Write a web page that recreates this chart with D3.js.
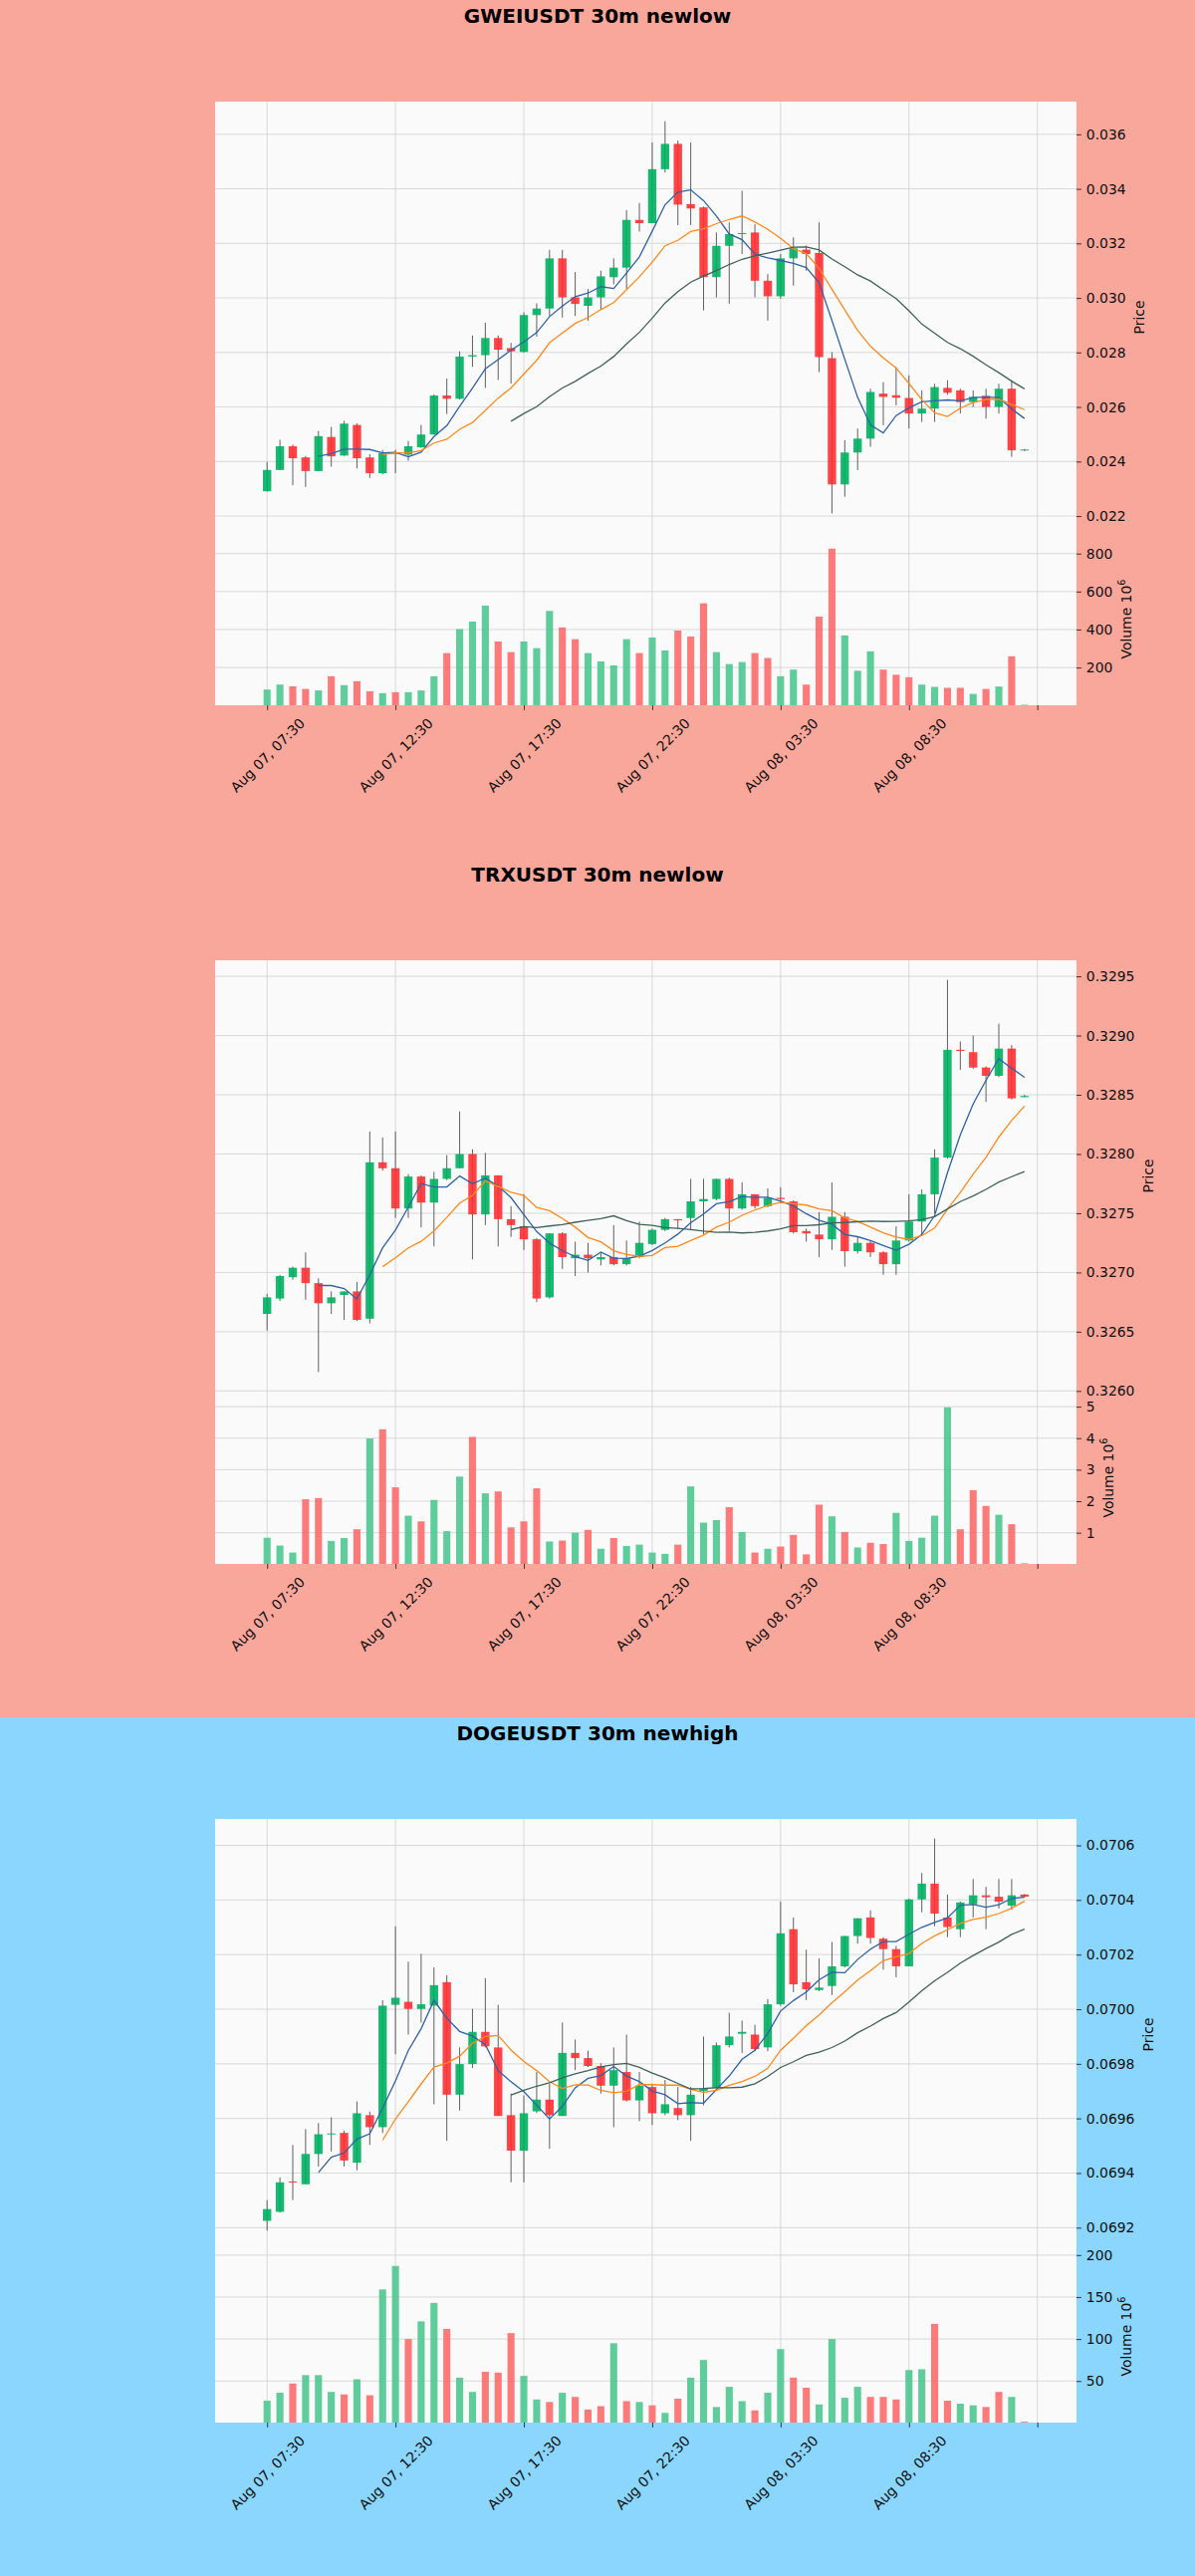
<!DOCTYPE html>
<html>
<head>
<meta charset="utf-8">
<script src="https://cdn.jsdelivr.net/npm/d3@7"></script>
<style>
body { margin: 0; background: #ffffff; font-family: "DejaVu Sans", sans-serif; }
svg { display: block; }
</style>
</head>
<body>
<div id="charts"></div>
<script>
// x axis tick labels (one every 10 candles of 30m), last tick has no label
var tickIndex = [0, 10, 20, 30, 40, 50, 60];
var tickLabels = ["Aug 07, 07:30", "Aug 07, 12:30", "Aug 07, 17:30", "Aug 07, 22:30",
                  "Aug 08, 03:30", "Aug 08, 08:30", ""];

var maWindows = [5, 10, 20];

// GWEIUSDT
var gweiOpen = [0.02291, 0.02369, 0.02456, 0.02415, 0.02365, 0.02490, 0.02422, 0.02534, 0.02415, 0.02357,
                0.02432, 0.02425, 0.02452, 0.02499, 0.02642, 0.02630, 0.02785, 0.02790, 0.02853, 0.02816,
                0.02802, 0.02937, 0.02961, 0.03145, 0.03002, 0.02971, 0.03002, 0.03076, 0.03111, 0.03286,
                0.03274, 0.03472, 0.03565, 0.03344, 0.03332, 0.03076, 0.03191, 0.03234, 0.03240, 0.03063,
                0.03006, 0.03145, 0.03177, 0.03165, 0.02779, 0.02316, 0.02433, 0.02484, 0.02649, 0.02643,
                0.02633, 0.02576, 0.02594, 0.02670, 0.02661, 0.02618, 0.02641, 0.02600, 0.02667, 0.02441];
var gweiHigh = [0.02398, 0.02480, 0.02462, 0.02420, 0.02512, 0.02527, 0.02549, 0.02540, 0.02427, 0.02443,
                0.02443, 0.02475, 0.02534, 0.02646, 0.02704, 0.02804, 0.02862, 0.02909, 0.02862, 0.02835,
                0.02947, 0.02980, 0.03176, 0.03176, 0.03095, 0.03033, 0.03100, 0.03145, 0.03322, 0.03348,
                0.03570, 0.03648, 0.03577, 0.03570, 0.03335, 0.03240, 0.03277, 0.03393, 0.03270, 0.03087,
                0.03161, 0.03222, 0.03192, 0.03277, 0.02801, 0.02478, 0.02521, 0.02667, 0.02691, 0.02746,
                0.02716, 0.02661, 0.02685, 0.02698, 0.02667, 0.02661, 0.02667, 0.02685, 0.02698, 0.02446];
var gweiLow = [0.02290, 0.02369, 0.02313, 0.02307, 0.02365, 0.02381, 0.02420, 0.02375, 0.02340, 0.02353,
               0.02357, 0.02403, 0.02450, 0.02499, 0.02574, 0.02628, 0.02747, 0.02670, 0.02699, 0.02686,
               0.02799, 0.02858, 0.02934, 0.02928, 0.02934, 0.02916, 0.02959, 0.03050, 0.03033, 0.03243,
               0.03274, 0.03460, 0.03267, 0.03267, 0.02954, 0.03002, 0.02979, 0.03161, 0.03002, 0.02917,
               0.02997, 0.03045, 0.03100, 0.02728, 0.02210, 0.02271, 0.02368, 0.02454, 0.02533, 0.02606,
               0.02521, 0.02545, 0.02545, 0.02645, 0.02576, 0.02600, 0.02557, 0.02576, 0.02417, 0.02438];
var gweiClose = [0.02369, 0.02456, 0.02412, 0.02365, 0.02493, 0.02419, 0.02539, 0.02412, 0.02357, 0.02431,
                 0.02430, 0.02456, 0.02499, 0.02642, 0.02630, 0.02785, 0.02790, 0.02853, 0.02810, 0.02804,
                 0.02937, 0.02961, 0.03145, 0.03002, 0.02978, 0.03002, 0.03079, 0.03111, 0.03286, 0.03274,
                 0.03472, 0.03565, 0.03342, 0.03328, 0.03076, 0.03191, 0.03234, 0.03238, 0.03063, 0.03006,
                 0.03145, 0.03182, 0.03161, 0.02783, 0.02316, 0.02433, 0.02484, 0.02655, 0.02637, 0.02634,
                 0.02576, 0.02594, 0.02673, 0.02652, 0.02618, 0.02637, 0.02600, 0.02667, 0.02441, 0.02444];
var gweiVolume = [84, 110, 101, 87, 79, 154, 107, 128, 75, 65,
                  70, 70, 79, 154, 276, 402, 442, 526, 337, 281,
                  337, 302, 498, 411, 349, 276, 232, 211, 349, 276,
                  358, 290, 395, 363, 538, 281, 218, 229, 276, 250,
                  154, 189, 110, 468, 826, 369, 183, 285, 189, 162,
                  149, 110, 98, 93, 93, 61, 87, 100, 259, 4];

// TRXUSDT
var trxOpen = [0.32665, 0.32678, 0.32696, 0.32704, 0.32691, 0.32674, 0.32681, 0.32684, 0.32661, 0.32793,
               0.32788, 0.32754, 0.32781, 0.32759, 0.32779, 0.32788, 0.32800, 0.32749, 0.32782, 0.32745,
               0.32739, 0.32728, 0.32679, 0.32733, 0.32712, 0.32715, 0.32711, 0.32713, 0.32707, 0.32713,
               0.32724, 0.32736, 0.32745, 0.32746, 0.32760, 0.32762, 0.32779, 0.32754, 0.32766, 0.32756,
               0.32763, 0.32760, 0.32735, 0.32732, 0.32728, 0.32747, 0.32718, 0.32725, 0.32717, 0.32707,
               0.32727, 0.32743, 0.32766, 0.32797, 0.32888, 0.32886, 0.32873, 0.32866, 0.32889, 0.32848];
var trxHigh = [0.32682, 0.32698, 0.32705, 0.32717, 0.32695, 0.32684, 0.32684, 0.32692, 0.32819, 0.32814,
               0.32819, 0.32783, 0.32782, 0.32785, 0.32799, 0.32836, 0.32804, 0.32801, 0.32782, 0.32756,
               0.32766, 0.32729, 0.32733, 0.32734, 0.32726, 0.32725, 0.32717, 0.32740, 0.32727, 0.32743,
               0.32737, 0.32746, 0.32745, 0.32779, 0.32779, 0.32779, 0.32780, 0.32776, 0.32766, 0.32771,
               0.32772, 0.32761, 0.32737, 0.32751, 0.32776, 0.32751, 0.32730, 0.32727, 0.32718, 0.32739,
               0.32766, 0.32770, 0.32804, 0.32947, 0.32895, 0.32900, 0.32874, 0.32910, 0.32892, 0.32850];
var trxLow = [0.32651, 0.32676, 0.32694, 0.32677, 0.32616, 0.32665, 0.32660, 0.32659, 0.32657, 0.32786,
              0.32746, 0.32746, 0.32738, 0.32722, 0.32778, 0.32788, 0.32711, 0.32740, 0.32722, 0.32730,
              0.32719, 0.32675, 0.32678, 0.32703, 0.32697, 0.32700, 0.32706, 0.32706, 0.32706, 0.32712,
              0.32723, 0.32735, 0.32737, 0.32736, 0.32732, 0.32761, 0.32735, 0.32753, 0.32754, 0.32755,
              0.32759, 0.32733, 0.32726, 0.32713, 0.32719, 0.32705, 0.32716, 0.32713, 0.32698, 0.32698,
              0.32726, 0.32732, 0.32750, 0.32796, 0.32871, 0.32872, 0.32844, 0.32865, 0.32846, 0.32848];
var trxClose = [0.32679, 0.32697, 0.32704, 0.32691, 0.32674, 0.32679, 0.32684, 0.32660, 0.32793, 0.32788,
                0.32754, 0.32781, 0.32759, 0.32779, 0.32788, 0.32800, 0.32749, 0.32782, 0.32745, 0.32740,
                0.32728, 0.32678, 0.32733, 0.32713, 0.32715, 0.32712, 0.32713, 0.32707, 0.32712, 0.32725,
                0.32736, 0.32745, 0.32744, 0.32760, 0.32762, 0.32779, 0.32754, 0.32766, 0.32756, 0.32763,
                0.32762, 0.32734, 0.32733, 0.32728, 0.32747, 0.32718, 0.32725, 0.32717, 0.32707, 0.32727,
                0.32743, 0.32766, 0.32797, 0.32888, 0.32887, 0.32873, 0.32866, 0.32889, 0.32847, 0.32849];
var trxVolume = [0.84, 0.59, 0.37, 2.06, 2.10, 0.74, 0.83, 1.11, 3.99, 4.28,
                 2.44, 1.54, 1.36, 2.04, 1.05, 2.78, 4.04, 2.25, 2.31, 1.17,
                 1.36, 2.41, 0.72, 0.75, 1.00, 1.09, 0.49, 0.83, 0.58, 0.62,
                 0.37, 0.33, 0.62, 2.47, 1.32, 1.40, 1.81, 1.02, 0.37, 0.49,
                 0.56, 0.93, 0.31, 1.89, 1.52, 1.02, 0.53, 0.68, 0.64, 1.63,
                 0.74, 0.84, 1.54, 4.98, 1.11, 2.35, 1.85, 1.57, 1.27, 0.03];

// DOGEUSDT
var dogeOpen = [0.069225, 0.069258, 0.069369, 0.069359, 0.069470, 0.069542, 0.069547, 0.069438, 0.069612, 0.069568,
                0.070016, 0.070027, 0.070001, 0.070013, 0.070099, 0.069687, 0.069799, 0.069917, 0.069860, 0.069612,
                0.069482, 0.069626, 0.069669, 0.069609, 0.069840, 0.069821, 0.069792, 0.069720, 0.069770, 0.069666,
                0.069715, 0.069619, 0.069638, 0.069612, 0.069701, 0.069713, 0.069868, 0.069910, 0.069907, 0.069860,
                0.070018, 0.070293, 0.070099, 0.070070, 0.070085, 0.070157, 0.070268, 0.070336, 0.070258, 0.070220,
                0.070157, 0.070402, 0.070460, 0.070336, 0.070293, 0.070384, 0.070417, 0.070412, 0.070379, 0.070420];
var dogeHigh = [0.069301, 0.069384, 0.069503, 0.069561, 0.069583, 0.069604, 0.069555, 0.069662, 0.069625, 0.070033,
                0.070304, 0.070174, 0.070203, 0.070153, 0.070124, 0.069860, 0.070001, 0.070114, 0.070016, 0.069691,
                0.069684, 0.069770, 0.069727, 0.069951, 0.069889, 0.069848, 0.069802, 0.069860, 0.069907, 0.069770,
                0.069727, 0.069741, 0.069715, 0.069715, 0.069900, 0.069878, 0.069987, 0.069958, 0.069943, 0.070037,
                0.070394, 0.070336, 0.070218, 0.070186, 0.070246, 0.070268, 0.070333, 0.070362, 0.070264, 0.070232,
                0.070405, 0.070499, 0.070625, 0.070420, 0.070394, 0.070477, 0.070448, 0.070477, 0.070477, 0.070422];
var dogeLow = [0.069189, 0.069255, 0.069301, 0.069359, 0.069424, 0.069479, 0.069424, 0.069410, 0.069503, 0.069547,
               0.069835, 0.069907, 0.069951, 0.069652, 0.069518, 0.069629, 0.069785, 0.069860, 0.069609, 0.069366,
               0.069366, 0.069620, 0.069489, 0.069609, 0.069777, 0.069788, 0.069691, 0.069568, 0.069662, 0.069590,
               0.069576, 0.069612, 0.069594, 0.069518, 0.069648, 0.069710, 0.069860, 0.069840, 0.069846, 0.069846,
               0.070012, 0.070062, 0.070033, 0.070066, 0.070052, 0.070153, 0.070240, 0.070240, 0.070145, 0.070117,
               0.070157, 0.070355, 0.070304, 0.070264, 0.070264, 0.070336, 0.070293, 0.070369, 0.070364, 0.070410];
var dogeClose = [0.069268, 0.069366, 0.069366, 0.069470, 0.069542, 0.069545, 0.069446, 0.069619, 0.069568, 0.070013,
                 0.070042, 0.070001, 0.070018, 0.070088, 0.069687, 0.069799, 0.069917, 0.069864, 0.069609, 0.069482,
                 0.069619, 0.069669, 0.069612, 0.069840, 0.069821, 0.069792, 0.069720, 0.069777, 0.069666, 0.069720,
                 0.069619, 0.069652, 0.069612, 0.069687, 0.069710, 0.069868, 0.069900, 0.069917, 0.069854, 0.070018,
                 0.070278, 0.070091, 0.070073, 0.070079, 0.070157, 0.070268, 0.070333, 0.070261, 0.070220, 0.070157,
                 0.070402, 0.070460, 0.070350, 0.070301, 0.070391, 0.070417, 0.070410, 0.070394, 0.070417, 0.070412];
var dogeVolume = [26.5, 36, 47, 57, 57, 37, 34, 52, 33, 159,
                  187, 100, 121, 143, 112, 54, 37, 61, 60, 107,
                  56, 28, 25, 36, 31, 16, 20, 95, 26, 25,
                  21, 12, 29, 54, 75, 19, 43, 26, 15, 36,
                  88, 54, 42, 22, 100, 30, 43, 31, 31, 28,
                  63, 64, 118, 26.5, 23, 21, 19, 37, 31, 1.5];

var charts = [
    {title: "GWEIUSDT 30m newlow", bg: "#f9a79b",
     open: gweiOpen, high: gweiHigh, low: gweiLow, close: gweiClose, volume: gweiVolume},
    {title: "TRXUSDT 30m newlow", bg: "#f9a79b",
     open: trxOpen, high: trxHigh, low: trxLow, close: trxClose, volume: trxVolume},
    {title: "DOGEUSDT 30m newhigh", bg: "#8ad6fe",
     open: dogeOpen, high: dogeHigh, low: dogeLow, close: dogeClose, volume: dogeVolume}
];

var style = {
    face: "#fafafa",
    grid: "#d0d0d0",
    text: "#101010",
    up: "#00b060",
    down: "#fe3032",
    wick: "#606060",
    volUp: "#4dc790",
    volDown: "#fd6b6c",
    ma: ["#2f62a6", "#ff8a1c", "#3f625b"],
    fontSize: 13.9
};

var W = 1200, H = 862;
var plot = {left: 216, right: 1081, top: 102, mid: 535, bottom: 708};

function rollingMean(values, w) {
    return values.map(function (v, i) {
        if (i < w - 1) return null;
        return d3.mean(values.slice(i - w + 1, i + 1));
    });
}

function drawChart(cfg) {
    var n = cfg.close.length;
    var svg = d3.select("#charts").append("svg")
        .attr("width", W)
        .attr("height", H);

    svg.append("rect").attr("width", W).attr("height", H).attr("fill", cfg.bg);

    svg.append("text")
        .attr("x", W / 2)
        .attr("y", 23)
        .attr("text-anchor", "middle")
        .style("font-size", "20px")
        .style("font-weight", "bold")
        .attr("fill", "#000")
        .text(cfg.title);

    // data limits are [-1, n] with 5% margins like matplotlib autoscale
    var span = n + 1;
    var x = d3.scaleLinear()
        .domain([-1 - 0.05 * span, n + 0.05 * span])
        .range([plot.left, plot.right]);
    var step = x(1) - x(0);

    var lo = d3.min(cfg.low), hi = d3.max(cfg.high);
    var pad = (hi - lo) * 0.05;
    var y = d3.scaleLinear().domain([lo - pad, hi + pad]).range([plot.mid, plot.top]);

    var vmax = d3.max(cfg.volume);
    var vmin = d3.min(cfg.volume);
    var yv = d3.scaleLinear().domain([0.3 * vmin, 1.1 * vmax]).range([plot.bottom, plot.mid]);

    svg.append("rect")
        .attr("x", plot.left).attr("y", plot.top)
        .attr("width", plot.right - plot.left)
        .attr("height", plot.bottom - plot.top)
        .attr("fill", style.face);

    var priceTicks = y.ticks(8);
    var volTicks = yv.ticks(5);

    // grid
    var grid = svg.append("g").attr("stroke", style.grid).attr("stroke-width", 0.8);
    grid.selectAll(".gp").data(priceTicks).enter().append("line")
        .attr("x1", plot.left).attr("x2", plot.right)
        .attr("y1", function (d) { return y(d); }).attr("y2", function (d) { return y(d); });
    grid.selectAll(".gv").data(volTicks).enter().append("line")
        .attr("x1", plot.left).attr("x2", plot.right)
        .attr("y1", function (d) { return yv(d); }).attr("y2", function (d) { return yv(d); });
    grid.selectAll(".gx").data(tickIndex).enter().append("line")
        .attr("x1", function (d) { return x(d); }).attr("x2", function (d) { return x(d); })
        .attr("y1", plot.top).attr("y2", plot.bottom);

    var idx = d3.range(n);

    // volume bars
    var vw = step * 0.55;
    svg.append("g").selectAll("rect").data(idx).enter().append("rect")
        .attr("x", function (i) { return x(i) - vw / 2; })
        .attr("y", function (i) { return yv(cfg.volume[i]); })
        .attr("width", vw)
        .attr("height", function (i) { return Math.max(0, plot.bottom - yv(cfg.volume[i])); })
        .attr("fill", function (i) { return cfg.close[i] >= cfg.open[i] ? style.volUp : style.volDown; })
        .attr("opacity", 0.9);

    // wicks
    svg.append("g").selectAll("line").data(idx).enter().append("line")
        .attr("x1", function (i) { return x(i); }).attr("x2", function (i) { return x(i); })
        .attr("y1", function (i) { return y(cfg.high[i]); })
        .attr("y2", function (i) { return y(cfg.low[i]); })
        .attr("stroke", style.wick)
        .attr("stroke-width", 1);

    // candle bodies
    var cw = step * 0.65;
    svg.append("g").selectAll("rect").data(idx).enter().append("rect")
        .attr("x", function (i) { return x(i) - cw / 2; })
        .attr("y", function (i) { return y(Math.max(cfg.open[i], cfg.close[i])); })
        .attr("width", cw)
        .attr("height", function (i) {
            return Math.max(1, Math.abs(y(cfg.open[i]) - y(cfg.close[i])));
        })
        .attr("fill", function (i) { return cfg.close[i] >= cfg.open[i] ? style.up : style.down; })
        .attr("opacity", 0.9);

    // moving averages of close
    var line = d3.line()
        .defined(function (d) { return d !== null; })
        .x(function (d, i) { return x(i); })
        .y(function (d) { return y(d); });
    maWindows.forEach(function (w, k) {
        svg.append("path")
            .datum(rollingMean(cfg.close, w))
            .attr("d", line)
            .attr("fill", "none")
            .attr("stroke", style.ma[k])
            .attr("stroke-width", 1.3);
    });

    // right side axes
    var pAxis = svg.append("g")
        .attr("transform", "translate(" + plot.right + ",0)")
        .call(d3.axisRight(y).tickValues(priceTicks).tickFormat(y.tickFormat(8))
            .tickSize(4.9).tickPadding(4.9));
    var vAxis = svg.append("g")
        .attr("transform", "translate(" + plot.right + ",0)")
        .call(d3.axisRight(yv).tickValues(volTicks).tickFormat(d3.format("~f"))
            .tickSize(4.9).tickPadding(4.9));

    [pAxis, vAxis].forEach(function (a) {
        a.select(".domain").remove();
        a.selectAll("line").attr("stroke", style.text).attr("stroke-width", 0.8);
        a.selectAll("text")
            .attr("fill", style.text)
            .style("font-family", "DejaVu Sans")
            .style("font-size", style.fontSize + "px");
    });

    function labelX(a) {
        var wmax = 0;
        a.selectAll("text").each(function () { wmax = Math.max(wmax, this.getBBox().width); });
        return plot.right + 9.8 + wmax + 5.6 + 8;
    }

    var px = labelX(pAxis);
    svg.append("text")
        .attr("transform", "translate(" + px + "," + ((plot.top + plot.mid) / 2) + ") rotate(-90)")
        .attr("text-anchor", "middle")
        .attr("dominant-baseline", "central")
        .attr("fill", style.text)
        .style("font-size", style.fontSize + "px")
        .text("Price");

    var vx = labelX(vAxis);
    var vl = svg.append("text")
        .attr("transform", "translate(" + vx + "," + ((plot.mid + plot.bottom) / 2) + ") rotate(-90)")
        .attr("text-anchor", "middle")
        .attr("dominant-baseline", "central")
        .attr("fill", style.text)
        .style("font-size", style.fontSize + "px");
    vl.append("tspan").text("Volume  10");
    vl.append("tspan").attr("dy", -5).style("font-size", "9.7px").text("6");

    // bottom axis with 45 degree labels
    var xAxis = svg.append("g")
        .attr("transform", "translate(0," + plot.bottom + ")")
        .call(d3.axisBottom(x).tickValues(tickIndex)
            .tickFormat(function (d, i) { return tickLabels[i]; })
            .tickSize(4.9).tickPadding(4.9));
    xAxis.select(".domain").remove();
    xAxis.selectAll("line").attr("stroke", style.text).attr("stroke-width", 0.8);
    xAxis.selectAll("text")
        .attr("fill", style.text)
        .style("font-family", "DejaVu Sans")
        .style("font-size", style.fontSize + "px")
        .attr("y", 0)
        .attr("dy", null)
        .attr("text-anchor", "middle")
        .attr("dominant-baseline", "central")
        .attr("transform", function () {
            var len = this.getComputedTextLength();
            var c = 9.8 + (len + 16) * Math.SQRT1_2 / 2;
            return "translate(0," + c + ") rotate(-45)";
        });
}

charts.forEach(drawChart);
</script>
</body>
</html>
